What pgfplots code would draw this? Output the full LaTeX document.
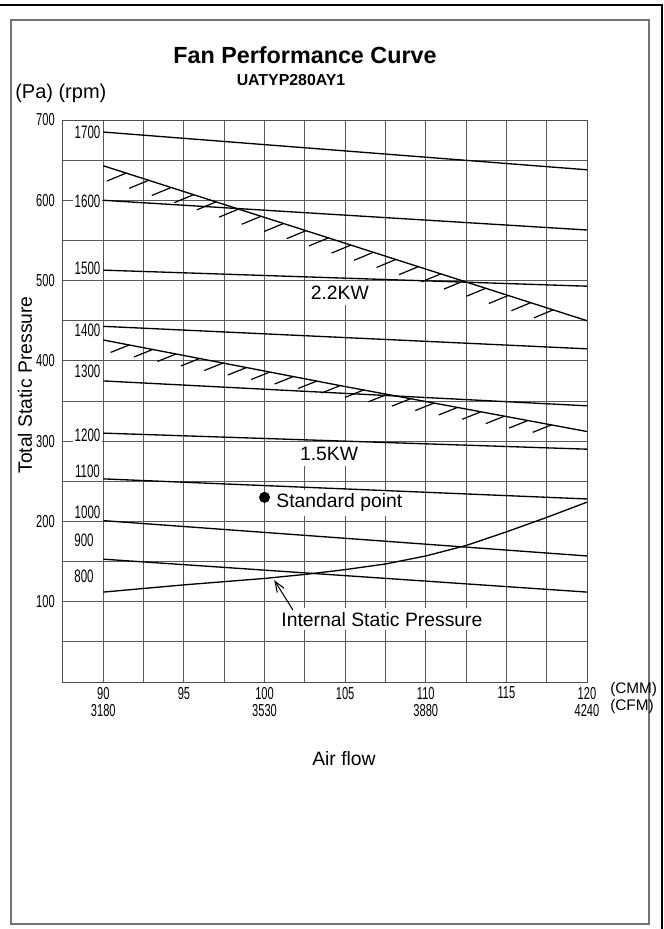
\documentclass[border=0pt]{standalone}
\usepackage{fontspec}
\setmainfont{Liberation Sans}
\usepackage{graphicx}
\usepackage{pgfplots}
\pgfplotsset{compat=1.18}
\usetikzlibrary{decorations.markings,arrows.meta}
\newcommand\cond[1]{\scalebox{0.64}[1]{#1}}
\tikzset{
 hatchA/.style={postaction={decorate},decoration={markings,mark=between positions 18pt and -18pt step 17.7pt with {\pgftransformresetnontranslations\draw[line width=0.9pt] (0pt,0pt) -- (-14.5pt,-6pt);}}},
 hatchB/.style={postaction={decorate},decoration={markings,mark=between positions 19.8pt and -12pt step 17.9pt with {\pgftransformresetnontranslations\draw[line width=0.9pt] (0pt,0pt) -- (-14pt,-5.6pt);}}},
 rpm/.style={fill=white,inner sep=1pt,font=\fontsize{13.5}{14}\selectfont},
 lbl/.style={fill=white,font=\fontsize{14.5}{16}\selectfont}
}
\begin{document}
\begin{tikzpicture}
\begin{scope}[x=0.75pt,y=-0.75pt]
\useasboundingbox (0,0) rectangle (664,929);
\draw[line width=2pt] (0,5) -- (662,5) -- (662,929);
\draw[black!55, line width=0.9pt] (11,20) rectangle (649,924);
\node[anchor=base,font=\bfseries\fontsize{17.5}{20}\selectfont] at (305,63) {Fan Performance Curve};
\node[anchor=base,font=\bfseries\fontsize{11.9}{14}\selectfont] at (291,85) {UATYP280AY1};
\node[anchor=base west,inner sep=0pt,font=\fontsize{15}{17}\selectfont] at (15,98) {(Pa) (rpm)};
\node[rotate=90,font=\fontsize{14.5}{16}\selectfont] at (25,385) {Total Static Pressure};
\node[anchor=west,inner sep=0pt,font=\fontsize{11.5}{13}\selectfont] at (610,690) {(CMM)};
\node[anchor=west,inner sep=0pt,font=\fontsize{11.5}{13}\selectfont] at (610,707) {(CFM)};
\node[font=\fontsize{14.5}{16}\selectfont] at (344,759) {Air flow};
\end{scope}
\begin{axis}[at={(47.25pt,-511.5pt)}, anchor=south west, scale only axis,
 width=393pt, height=421.5pt,
 xmin=87.5, xmax=120, ymin=0, ymax=700,
 xtick={90,95,100,105,110,115,120},
 xticklabels={{\cond{90}\\\cond{3180}},{\cond{95}},{\cond{100}\\\cond{3530}},{\cond{105}},{\cond{110}\\\cond{3880}},{\cond{115}},{\cond{120}\\\cond{4240}}},
 minor xtick={92.5,97.5,102.5,107.5,112.5,117.5},
 ytick={100,200,300,400,500,600,700},
 yticklabels={\cond{100},\cond{200},\cond{300},\cond{400},\cond{500},\cond{600},\cond{700}},
 minor ytick={50,150,250,350,450,550,650},
 grid=both,
 major grid style={black!65,line width=0.75pt},
 minor grid style={black!65,line width=0.75pt},
 axis line style={black!70,line width=0.75pt},
 major tick length=0pt, minor tick length=0pt,
 xticklabel style={align=center,font=\fontsize{13}{13}\selectfont,inner sep=0pt,yshift=-3.5pt},
 yticklabel style={font=\fontsize{13}{13}\selectfont,inner sep=0pt,xshift=-6pt},
]
% labels (white boxes) first
\node[rpm] at (axis cs:89.02,685) {\cond{1700}};
\node[rpm] at (axis cs:89.02,599) {\cond{1600}};
\node[rpm] at (axis cs:89.02,515) {\cond{1500}};
\node[rpm] at (axis cs:89.02,438) {\cond{1400}};
\node[rpm] at (axis cs:89.02,387) {\cond{1300}};
\node[rpm] at (axis cs:89.02,307) {\cond{1200}};
\node[rpm] at (axis cs:89.02,263) {\cond{1100}};
\node[rpm] at (axis cs:89.02,211) {\cond{1000}};
\node[rpm] at (axis cs:88.8,176) {\cond{900}};
\node[rpm] at (axis cs:88.8,132) {\cond{800}};
\node[lbl,inner xsep=3pt,inner ysep=4pt] at (axis cs:104.67,485) {2.2KW};
\node[lbl,inner xsep=3pt,inner ysep=4pt] at (axis cs:104.0,284) {1.5KW};
\node[lbl,anchor=west,inner xsep=1pt,inner ysep=3pt] at (axis cs:100.64,223) {Standard point};
\node[lbl,anchor=west,inner xsep=1pt,inner ysep=3pt] at (axis cs:100.95,78) {Internal Static Pressure};
% rpm lines
\addplot[black,line width=1pt] coordinates {(90,685) (120,638)};
\addplot[black,line width=1pt] coordinates {(90,600) (120,563)};
\addplot[black,line width=1pt] coordinates {(90,513) (120,493)};
\addplot[black,line width=1pt] coordinates {(90,443) (120,415)};
\addplot[black,line width=1pt] coordinates {(90,375) (120,344)};
\addplot[black,line width=1pt] coordinates {(90,310) (120,290)};
\addplot[black,line width=1pt] coordinates {(90,253) (120,228)};
\addplot[black,line width=1pt] coordinates {(90,201) (120,157)};
\addplot[black,line width=1pt] coordinates {(90,153) (120,112)};
% power limit lines
\addplot[black,line width=1pt,hatchA] coordinates {(90,643) (120,450)};
\addplot[black,line width=1pt,hatchB] coordinates {(90,426) (105,368) (120,312)};
% internal static pressure
\addplot[black,line width=1pt] coordinates {(90,112) (95,121) (100,129) (102.5,134) (105,140) (107.5,147) (110,157) (112.5,170) (115,187) (117.5,205) (120,224)};
% standard point
\addplot[only marks,mark=*,mark size=3.9pt,black] coordinates {(100,230)};
\draw[line width=0.8pt,-{Straight Barb[length=8pt,width=6pt]}] (axis cs:101.76,89.7) -- (axis cs:100.6,127);
\end{axis}
\end{tikzpicture}
\end{document}
